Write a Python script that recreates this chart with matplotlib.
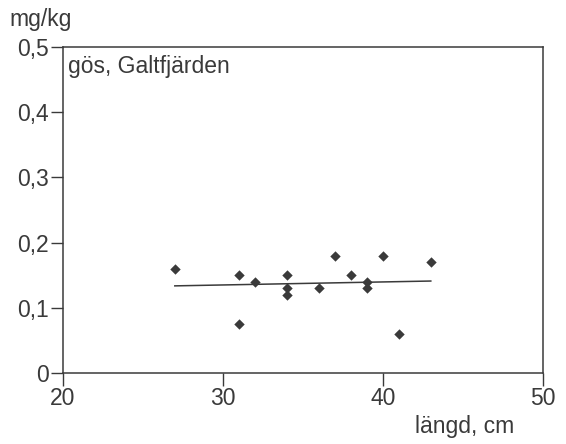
import matplotlib
matplotlib.use('Agg')
import matplotlib.pyplot as plt
import numpy as np

plt.rcParams['font.family'] = ['Liberation Sans', 'DejaVu Sans']

# langd (cm) och halt (mg/kg), gos i Galtfjarden
langd = [27, 31, 31, 32, 34, 34, 34, 36, 37, 38, 39, 39, 40, 41, 43]
halt = [0.16, 0.15, 0.075, 0.14, 0.15, 0.13, 0.12, 0.13, 0.18, 0.15, 0.14, 0.13, 0.18, 0.06, 0.17]

x_ticks = [20, 30, 40, 50]
y_ticks = [0, 0.1, 0.2, 0.3, 0.4, 0.5]
y_labels = ['0', '0,1', '0,2', '0,3', '0,4', '0,5']

col = '#3a3a3a'

fig = plt.figure(figsize=(5.66, 4.44), dpi=100)
ax = fig.add_axes([0.111, 0.16, 0.848, 0.734])

ax.scatter(langd, halt, marker='D', s=28, color=col, zorder=3, linewidths=0)

# linjar trend
k, m = np.polyfit(langd, halt, 1)
xs = np.array([min(langd), max(langd)])
ax.plot(xs, k * xs + m, color=col, lw=1.1)

ax.set_xlim(20, 50)
ax.set_ylim(0, 0.5)
ax.set_xticks(x_ticks)
ax.set_yticks(y_ticks)
ax.set_yticklabels(y_labels)
ax.tick_params(direction='out', length=9, width=1, colors=col, labelsize=16.5, pad=1)
for s in ax.spines.values():
	s.set_color(col)
	s.set_linewidth(1.1)

ax.text(0.01, 0.975, 'gös, Galtfjärden', transform=ax.transAxes, fontsize=16.5, color=col, va='top', ha='left')
fig.text(0.016, 0.955, 'mg/kg', fontsize=16.5, color=col, va='center', ha='left')
fig.text(0.733, 0.04, 'längd, cm', fontsize=16.5, color=col, va='center', ha='left')

fig.savefig('out.png', dpi=100)
